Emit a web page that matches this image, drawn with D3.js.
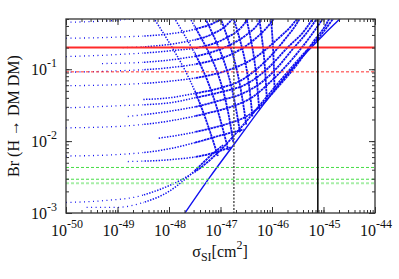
<!DOCTYPE html>
<html>
<head>
<meta charset="utf-8">
<script src="https://cdn.jsdelivr.net/npm/d3@7"></script>
<style>
  body { margin: 0; background: #fff; }
  svg { display: block; }
  text { font-family: "Liberation Serif", "DejaVu Serif", serif; fill: #111; }
</style>
</head>
<body>
<div id="chart"></div>
<script>
// decade exponents for the tick labels
var xTickExps = [-50, -49, -48, -47, -46, -45, -44];
var yTickExps = [-3, -2, -1];

// horizontal reference lines (Br values) and vertical ones (log10 sigma)
var brLines = [0.2, 0.092, 0.0043, 0.00295, 0.0026];
var sigmaLines = [-45.11, -46.74];

// points are [log10 sigma_SI, Br]
var envelope = [[-47.69, 0.001], [-47.2, 0.0032], [-46.7, 0.0098], [-46.2, 0.030],
  [-45.7, 0.085], [-45.3, 0.18], [-45.0, 0.30], [-44.75, 0.45], [-44.66, 0.52]];

var shallowCurves = [
  [[-50, 0.45], [-49.5, 0.46], [-49, 0.48], [-48.6, 0.52]],
  [[-50, 0.27], [-49, 0.28], [-48, 0.31], [-47.5, 0.36], [-47.1, 0.45], [-46.95, 0.52]],
  [[-48.9, 0.2], [-48.3, 0.21], [-47.7, 0.24], [-47.2, 0.3], [-46.9, 0.4], [-46.75, 0.52]],
  [[-50, 0.15], [-49, 0.16], [-48, 0.18], [-47.3, 0.21], [-46.9, 0.27], [-46.6, 0.38], [-46.45, 0.52]],
  [[-49.3, 0.12], [-48.5, 0.125], [-47.8, 0.14], [-47.2, 0.17], [-46.8, 0.22], [-46.5, 0.3], [-46.25, 0.45], [-46.2, 0.52]],
  [[-50, 0.091], [-49, 0.095], [-48, 0.105], [-47.3, 0.125], [-46.8, 0.16], [-46.4, 0.24], [-46.1, 0.38], [-45.95, 0.52]],
  [[-50, 0.059], [-49, 0.061], [-48, 0.068], [-47.3, 0.08], [-46.8, 0.1], [-46.3, 0.15], [-45.9, 0.26], [-45.6, 0.42], [-45.5, 0.52]],
  [[-48.5, 0.038], [-48, 0.04], [-47.5, 0.046], [-47, 0.055], [-46.6, 0.07], [-46.3, 0.1], [-46.0, 0.16], [-45.75, 0.26], [-45.55, 0.4], [-45.45, 0.52]],
  [[-50, 0.029], [-49, 0.031], [-48, 0.034], [-47.5, 0.04], [-47, 0.048], [-46.5, 0.062], [-46.1, 0.1], [-45.7, 0.2], [-45.35, 0.36], [-45.2, 0.52]],
  [[-48.8, 0.022], [-48, 0.026], [-47.4, 0.031], [-47, 0.037], [-46.6, 0.045], [-46.2, 0.066], [-45.9, 0.105], [-45.6, 0.19], [-45.3, 0.34], [-45.12, 0.52]],
  [[-50, 0.0153], [-49, 0.016], [-48, 0.019], [-47.3, 0.024], [-46.8, 0.03], [-46.4, 0.04], [-46.0, 0.07], [-45.6, 0.14], [-45.25, 0.29], [-45.0, 0.52]],
  [[-48.2, 0.011], [-47.7, 0.0125], [-47.2, 0.015], [-46.8, 0.018], [-46.5, 0.022], [-46.2, 0.032], [-45.9, 0.055], [-45.5, 0.12], [-45.2, 0.24], [-44.95, 0.42], [-44.88, 0.52]],
  [[-50, 0.0062], [-49, 0.0065], [-48, 0.0078], [-47.5, 0.0095], [-47, 0.012], [-46.55, 0.0145]],
  [[-48.8, 0.0052], [-48, 0.0055], [-47.3, 0.0064], [-46.8, 0.0082]],
  [[-50, 0.0014], [-49.2, 0.0015], [-48.6, 0.0017], [-48.2, 0.0021], [-47.8, 0.0028], [-47.4, 0.0042],
    [-47.0, 0.0075], [-46.6, 0.0155], [-46.2, 0.034], [-45.8, 0.075], [-45.4, 0.16], [-45.05, 0.3], [-44.8, 0.52]],
  [[-49.6, 0.0012], [-49, 0.0012], [-48.5, 0.0014], [-48, 0.002], [-47.7, 0.0029], [-47.45, 0.0042], [-47.2, 0.0062], [-46.95, 0.0088]]
];

var fanRibs = [
  [[-48.3, 0.52], [-47.7, 0.1], [-47.05, 0.0062]],
  [[-47.9, 0.52], [-47.4, 0.12], [-46.85, 0.0075]],
  [[-47.6, 0.52], [-47.15, 0.13], [-46.75, 0.0095]],
  [[-47.3, 0.52], [-46.95, 0.14], [-46.62, 0.013]],
  [[-47.0, 0.52], [-46.75, 0.15], [-46.5, 0.017]],
  [[-46.75, 0.52], [-46.55, 0.16], [-46.38, 0.022]],
  [[-46.5, 0.52], [-46.37, 0.18], [-46.25, 0.028]],
  [[-46.25, 0.52], [-46.17, 0.19], [-46.1, 0.037]],
  [[-46.02, 0.52], [-45.98, 0.2], [-45.95, 0.05]]
];

var margin = { top: 19, right: 24, bottom: 66, left: 66 };
var width = 399 - margin.left - margin.right;
var height = 279 - margin.top - margin.bottom;

var x = d3.scaleLog().domain([1e-50, 1e-44]).range([0, width]);
var y = d3.scaleLog().domain([1e-3, 0.5]).range([height, 0]);

function sx(e) { return x(Math.pow(10, e)); }

var svg = d3.select("#chart").append("svg")
    .attr("width", 399)
    .attr("height", 279);

var g = svg.append("g")
    .attr("transform", "translate(" + margin.left + "," + margin.top + ")");

var defs = svg.append("defs");
defs.append("clipPath").attr("id", "plotClip")
  .append("rect").attr("width", width).attr("height", height);

// three x bands: sparse scatter on the left, dense on the right
var bandEdges = [0, sx(-48.5), sx(-47.5), width];
var bandStyles = [
  { w: 1.3, dash: "1,3.5" },
  { w: 1.5, dash: "1.4,1.4" },
  { w: 1.8, dash: "2.5,0.6" }
];
bandEdges.slice(0, 3).forEach(function(x0, i) {
  defs.append("clipPath").attr("id", "band" + i)
    .append("rect")
      .attr("x", x0).attr("y", 0)
      .attr("width", bandEdges[i + 1] - x0)
      .attr("height", height);
});

var line = d3.line()
    .x(function(d) { return sx(d[0]); })
    .y(function(d) { return y(d[1]); })
    .curve(d3.curveMonotoneX);

var ribLine = d3.line()
    .x(function(d) { return sx(d[0]); })
    .y(function(d) { return y(d[1]); })
    .curve(d3.curveMonotoneY);

var plot = g.append("g").attr("clip-path", "url(#plotClip)");

bandStyles.forEach(function(st, i) {
  var band = plot.append("g").attr("clip-path", "url(#band" + i + ")");
  band.selectAll("path.shallow")
      .data(shallowCurves)
    .enter().append("path")
      .attr("class", "shallow")
      .attr("fill", "none")
      .attr("stroke", "#1010f0")
      .attr("stroke-width", st.w)
      .attr("stroke-dasharray", st.dash)
      .attr("d", line);
  band.selectAll("path.rib")
      .data(fanRibs)
    .enter().append("path")
      .attr("class", "rib")
      .attr("fill", "none")
      .attr("stroke", "#1010f0")
      .attr("stroke-width", st.w)
      .attr("stroke-dasharray", st.dash)
      .attr("d", ribLine);
});

plot.append("path")
    .datum(envelope)
    .attr("fill", "none")
    .attr("stroke", "#1010f0")
    .attr("stroke-width", 1.4)
    .attr("d", line);

// reference lines
var brStyles = [
  { c: "#ff2a2a", w: 2, dash: null },
  { c: "#ff3030", w: 1, dash: "3,2" },
  { c: "#44dd44", w: 1, dash: "3,2" },
  { c: "#44dd44", w: 1, dash: "3,2" },
  { c: "#a8eea8", w: 2, dash: "3,2" }
];
brLines.forEach(function(v, i) {
  g.append("line")
    .attr("x1", 0).attr("x2", width)
    .attr("y1", y(v)).attr("y2", y(v))
    .attr("stroke", brStyles[i].c)
    .attr("stroke-width", brStyles[i].w)
    .attr("stroke-dasharray", brStyles[i].dash);
});

var sigmaStyles = [
  { c: "#000", w: 1.5, dash: null },
  { c: "#555", w: 1.5, dash: "2,1.5" }
];
sigmaLines.forEach(function(e, i) {
  g.append("line")
    .attr("x1", sx(e)).attr("x2", sx(e))
    .attr("y1", 0).attr("y2", height)
    .attr("stroke", sigmaStyles[i].c)
    .attr("stroke-width", sigmaStyles[i].w)
    .attr("stroke-dasharray", sigmaStyles[i].dash);
});

// ticks on all four sides, pointing in
function tickAxis(axis, tr) {
  var a = g.append("g").attr("transform", tr).call(axis);
  a.select(".domain").remove();
  a.selectAll("line").attr("stroke", "#333");
  return a;
}
var xMajor = xTickExps.map(function(e) { return Math.pow(10, e); });
var yMajor = yTickExps.map(function(e) { return Math.pow(10, e); });

tickAxis(d3.axisBottom(x).tickSize(-3).tickFormat(""), "translate(0," + height + ")");
tickAxis(d3.axisTop(x).tickSize(-3).tickFormat(""), "translate(0,0)");
tickAxis(d3.axisBottom(x).tickValues(xMajor).tickSize(-6).tickFormat(""), "translate(0," + height + ")");
tickAxis(d3.axisTop(x).tickValues(xMajor).tickSize(-6).tickFormat(""), "translate(0,0)");
tickAxis(d3.axisLeft(y).tickSize(-3).tickFormat(""), "translate(0,0)");
tickAxis(d3.axisRight(y).tickSize(-3).tickFormat(""), "translate(" + width + ",0)");
tickAxis(d3.axisLeft(y).tickValues(yMajor).tickSize(-6).tickFormat(""), "translate(0,0)");
tickAxis(d3.axisRight(y).tickValues(yMajor).tickSize(-6).tickFormat(""), "translate(" + width + ",0)");

g.append("rect")
    .attr("width", width).attr("height", height)
    .attr("fill", "none")
    .attr("stroke", "#333")
    .attr("stroke-width", 1.3);

// tick labels with superscript exponents
xTickExps.forEach(function(e) {
  var t = g.append("text")
      .attr("x", sx(e) + 1)
      .attr("y", height + 23)
      .attr("text-anchor", "middle")
      .style("font-size", "16px");
  t.append("tspan").text("10");
  t.append("tspan").attr("dy", -8).style("font-size", "12px").text(String(e));
});

yTickExps.forEach(function(e) {
  var t = g.append("text")
      .attr("x", -9)
      .attr("y", y(Math.pow(10, e)) + 6)
      .attr("text-anchor", "end")
      .style("font-size", "16px");
  t.append("tspan").text("10");
  t.append("tspan").attr("dy", -8).style("font-size", "12px").text(String(e));
});

// axis titles
svg.append("text")
    .attr("transform", "translate(19,116) rotate(-90)")
    .attr("text-anchor", "middle")
    .style("font-size", "16px")
    .text("Br (H \u2192 DM DM)");

var xl = svg.append("text")
    .attr("x", 220)
    .attr("y", 257)
    .attr("text-anchor", "middle")
    .style("font-size", "16px");
xl.append("tspan").text("\u03c3");
xl.append("tspan").attr("dy", 4).style("font-size", "12px").text("SI");
xl.append("tspan").attr("dy", -4).text("[cm");
xl.append("tspan").attr("dy", -8).style("font-size", "12px").text("2");
xl.append("tspan").attr("dy", 8).text("]");
</script>
</body>
</html>
